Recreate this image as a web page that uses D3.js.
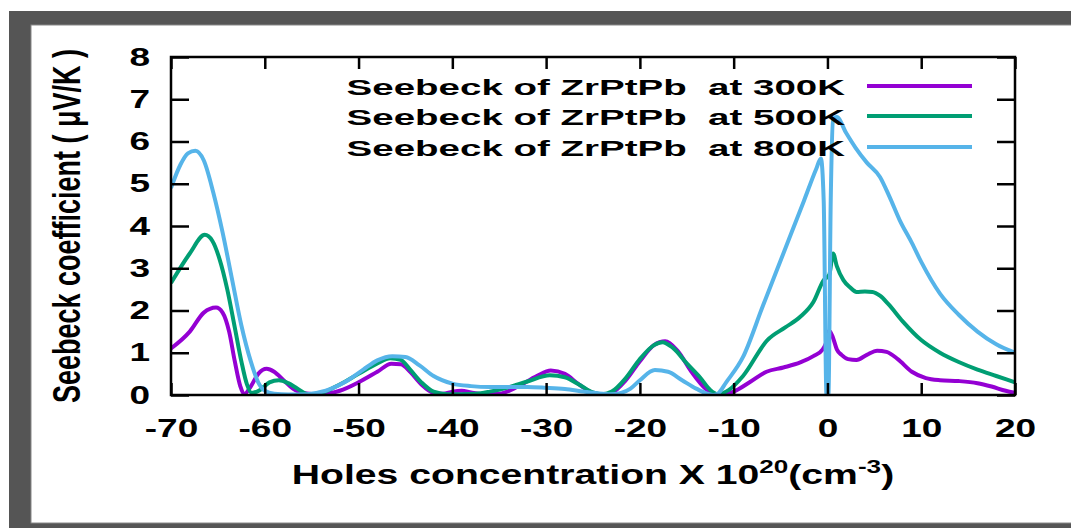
<!DOCTYPE html>
<html>
<head>
<meta charset="utf-8">
<script src="https://cdn.jsdelivr.net/npm/d3@7"></script>
<style>
  html, body { margin: 0; padding: 0; background: #fff; }
  svg { display: block; }
  text { font-family: "Liberation Sans", Arial, sans-serif; font-weight: bold; fill: #000; }
</style>
</head>
<body>
<svg id="chart" width="1071" height="528"></svg>
<script>
// Seebeck coefficient of ZrPtPb vs hole concentration (x 10^20 cm^-3)
const xTicks = [-70, -60, -50, -40, -30, -20, -10, 0, 10, 20];
const yTicks = [0, 1, 2, 3, 4, 5, 6, 7, 8];
const seriesNames = ["Seebeck of ZrPtPb  at 300K", "Seebeck of ZrPtPb  at 500K", "Seebeck of ZrPtPb  at 800K"];
const seriesColors = ["#9400d3", "#009e73", "#56b4e9"];

const conc300 = [-70, -68, -66.5, -65.2, -64.5, -63.8, -63.2, -62.6, -62.2, -61.5, -60.7, -59.8, -59, -58, -57, -56, -54, -52, -50, -48, -46.5, -45.5, -44.5, -43.3, -42, -41, -40, -39, -38, -36.5, -35, -33, -31, -29.5, -28, -26.5, -25, -24, -23, -21.5, -20, -18.5, -17.3, -16, -14.5, -13, -12, -11, -10, -8.3, -6.5, -4.7, -2.9, -1.5, -0.5, -0.2, 0.2, 0.6, 1.0, 1.5, 2.2, 3.1, 4.2, 5.3, 6.3, 7.5, 9, 10.5, 12, 14, 16, 17.5, 19, 20];
const see300 = [1.1, 1.5, 1.95, 2.07, 1.95, 1.5, 0.8, 0.2, 0.02, 0.2, 0.5, 0.62, 0.55, 0.35, 0.15, 0.05, 0.02, 0.1, 0.3, 0.55, 0.74, 0.73, 0.55, 0.25, 0.05, 0.03, 0.08, 0.1, 0.06, 0.02, 0.03, 0.2, 0.45, 0.58, 0.5, 0.25, 0.05, 0.01, 0.05, 0.35, 0.8, 1.18, 1.27, 1.05, 0.55, 0.15, 0.02, 0.02, 0.08, 0.3, 0.55, 0.65, 0.77, 0.92, 1.08, 1.2, 1.52, 1.35, 1.08, 0.95, 0.85, 0.83, 0.95, 1.05, 1.02, 0.85, 0.55, 0.4, 0.35, 0.33, 0.28, 0.2, 0.1, 0.05];

const conc500 = [-70, -68, -66.4, -65.6, -64.8, -64, -63.2, -62.5, -61.9, -61.4, -60.5, -59.5, -58.5, -57.5, -56.5, -55.4, -54, -52, -50, -48, -46.6, -45.5, -44.5, -43.3, -42, -40.5, -39, -37.5, -36, -34, -32, -29.6, -28, -26.5, -25, -24, -23, -21.5, -20, -18.5, -17.6, -16.5, -15, -13.6, -12.5, -11.7, -10.5, -9, -6.4, -4.5, -2.9, -1.5, -0.4, 0.2, 0.6, 1.0, 1.7, 2.4, 3.1, 4.0, 4.8, 5.6, 6.5, 8, 10, 12, 14, 16, 18, 20];
const see500 = [2.65, 3.35, 3.79, 3.65, 3.2, 2.5, 1.6, 0.8, 0.25, 0.05, 0.12, 0.3, 0.35, 0.28, 0.15, 0.02, 0.05, 0.25, 0.5, 0.75, 0.87, 0.83, 0.6, 0.3, 0.08, 0.02, 0.02, 0.03, 0.08, 0.18, 0.32, 0.47, 0.42, 0.25, 0.06, 0.02, 0.08, 0.4, 0.85, 1.18, 1.25, 1.12, 0.75, 0.42, 0.12, 0.02, 0.12, 0.45, 1.3, 1.6, 1.85, 2.2, 2.72, 2.85, 3.35, 3.05, 2.72, 2.55, 2.44, 2.45, 2.44, 2.35, 2.15, 1.75, 1.3, 1.0, 0.78, 0.6, 0.45, 0.3];

const conc800 = [-70, -69, -68.2, -67.4, -66.5, -65.5, -64.5, -63.5, -62.5, -61.5, -60.7, -60, -59, -57.5, -55.5, -53.5, -51.5, -49.5, -48, -46.4, -45, -43.5, -42, -40, -38, -36, -34, -32, -30, -28, -26, -24.5, -23.1, -22, -21, -20, -18.4, -17, -15.5, -14, -12.2, -11.7, -10.8, -9, -6.9, -4.7, -2.5, -1.2, -0.7, -0.4, -0.1, 0.1, 0.35, 0.6, 1.0, 2.0, 3.0, 4.2, 5.6, 6.6, 7.7, 9, 10, 12, 14, 16, 18, 20];
const see800 = [4.9, 5.45, 5.72, 5.78, 5.55, 4.8, 3.85, 2.75, 1.65, 0.8, 0.3, 0.1, 0.03, 0.01, 0.02, 0.1, 0.3, 0.6, 0.82, 0.92, 0.9, 0.7, 0.45, 0.27, 0.21, 0.19, 0.19, 0.19, 0.17, 0.14, 0.08, 0.04, 0.02, 0.05, 0.15, 0.35, 0.59, 0.55, 0.35, 0.15, 0.0, 0.03, 0.3, 0.9, 2.1, 3.35, 4.6, 5.35, 5.6, 4.6, 0.0, 0.0, 4.6, 6.5, 6.58, 6.2, 5.85, 5.5, 5.16, 4.7, 4.14, 3.6, 3.15, 2.4, 1.9, 1.5, 1.2, 1.0];

const svg = d3.select("#chart");
const W = 1071, H = 528;

// text is drawn horizontally stretched (wide raster look)
const tickSX = 1.48, legendSX = 1.75, titleSX = 1.45;

// window-style frame around the plot
svg.append("rect").attr("x", 0).attr("y", 0).attr("width", W).attr("height", H).attr("fill", "#fff");
svg.append("rect").attr("x", 9).attr("y", 11).attr("width", W).attr("height", H).attr("fill", "#555");
svg.append("rect").attr("x", 31).attr("y", 25).attr("width", W).attr("height", 498).attr("fill", "#fff")
  .attr("stroke", "#888").attr("stroke-width", 1);

const pLeft = 171, pRight = 1015, pTop = 57, pBottom = 395;
const x = d3.scaleLinear().domain([-70, 20]).range([pLeft, pRight]);
const y = d3.scaleLinear().domain([0, 8]).range([pBottom, pTop]);

const plot = svg.append("g");

// curves
const line = d3.line().x(d => x(d[0])).y(d => y(d[1])).curve(d3.curveMonotoneX);
const allSeries = [
  d3.zip(conc300, see300),
  d3.zip(conc500, see500),
  d3.zip(conc800, see800)
];
const clip = svg.append("defs").append("clipPath").attr("id", "plotclip");
clip.append("rect").attr("x", pLeft).attr("y", pTop - 5).attr("width", pRight - pLeft).attr("height", pBottom - pTop + 6);

allSeries.forEach((s, i) => {
  plot.append("path")
    .attr("d", line(s))
    .attr("fill", "none")
    .attr("stroke", seriesColors[i])
    .attr("stroke-width", 4)
    .attr("stroke-linejoin", "round")
    .attr("clip-path", "url(#plotclip)");
});

// axes: ticks point inward and are mirrored on all four sides
const tickFmt = d => String(d);   // plain hyphen for negatives
const axB = d3.axisBottom(x).tickValues(xTicks).tickSize(-12).tickFormat(tickFmt).tickPadding(24);
const axT = d3.axisTop(x).tickValues(xTicks).tickSize(-12).tickFormat("");
const axL = d3.axisLeft(y).tickValues(yTicks).tickSize(-18).tickFormat(tickFmt).tickPadding(21);
const axR = d3.axisRight(y).tickValues(yTicks).tickSize(-18).tickFormat("");

function styleAxis(g) {
  g.select(".domain").remove();
  g.selectAll(".tick line").attr("stroke", "#000").attr("stroke-width", 2.5);
  g.selectAll(".tick text").attr("font-size", 25).attr("font-family", "Liberation Sans, Arial, sans-serif")
    .attr("font-weight", "bold").attr("fill", "#000");
}
svg.append("g").attr("transform", `translate(0,${pBottom})`).call(axB).call(styleAxis)
  .selectAll(".tick text").attr("dy", "0.71em").attr("transform", `scale(${tickSX},1)`);
svg.append("g").attr("transform", `translate(0,${pTop})`).call(axT).call(styleAxis);
svg.append("g").attr("transform", `translate(${pLeft},0)`).call(axL).call(styleAxis)
  .selectAll(".tick text").attr("x", -21 / tickSX).attr("transform", `scale(${tickSX},1)`);
svg.append("g").attr("transform", `translate(${pRight},0)`).call(axR).call(styleAxis);

// border box
svg.append("rect").attr("x", pLeft).attr("y", pTop).attr("width", pRight - pLeft).attr("height", pBottom - pTop)
  .attr("fill", "none").attr("stroke", "#000").attr("stroke-width", 2.5);

// axis titles
const xt = svg.append("text")
  .attr("transform", `translate(${(pLeft + pRight) / 2},484) scale(${titleSX},1)`)
  .attr("text-anchor", "middle").attr("font-size", 27);
xt.append("tspan").text("Holes concentration X 10");
xt.append("tspan").attr("font-size", 18).attr("dy", -11).text("20");
xt.append("tspan").attr("dy", 11).text("(cm");
xt.append("tspan").attr("font-size", 18).attr("dy", -11).text("-3");
xt.append("tspan").attr("dy", 11).text(")");

svg.append("text")
  .attr("transform", `translate(80,${(pTop + pBottom) / 2}) scale(${titleSX},1) rotate(-90)`)
  .attr("text-anchor", "middle").attr("font-size", 27)
  .text("Seebeck coefficient ( \u03bcV/K )");

// legend
const legY = [86, 116, 147];
seriesNames.forEach((n, i) => {
  svg.append("text")
    .attr("transform", `translate(845,${legY[i] + 8.5}) scale(${legendSX},1)`)
    .attr("text-anchor", "end").attr("font-size", 22).style("white-space", "pre")
    .text(n);
  svg.append("line").attr("x1", 867).attr("x2", 972).attr("y1", legY[i]).attr("y2", legY[i])
    .attr("stroke", seriesColors[i]).attr("stroke-width", 4);
});
</script>
</body>
</html>
